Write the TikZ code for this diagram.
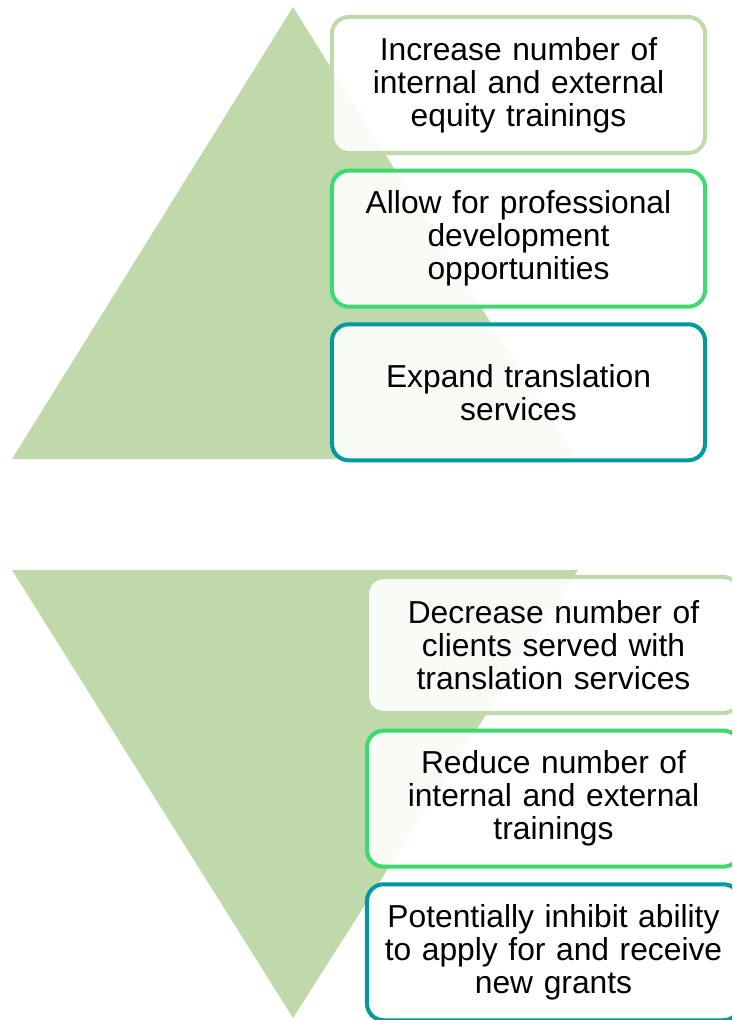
\documentclass[tikz,border=0pt]{standalone}
\usepackage{fontspec}
\setmainfont{Liberation Sans}
\usepackage{xcolor}
\usepackage{tikz}
\usetikzlibrary{shapes,positioning}

\definecolor{leafgreen}{HTML}{C0D9AB}
\definecolor{brightgreen}{HTML}{3DDA72}
\definecolor{tealblue}{HTML}{0099A0}

\begin{document}
\begin{tikzpicture}[x=0.025cm, y=-0.025cm, node distance=3.84cm,
    box/.style={draw, line width=2.85pt, fill=white, fill opacity=0.9, text opacity=1, rounded corners=0.42cm, text width=9.325cm, minimum height=3.4cm, inner sep=0pt, text centered, font=\fontsize{22.6}{23.5}\selectfont}]
    \path[use as bounding box, clip] (0,0) rectangle (732,1020);

    % the two triangles
    \fill[leafgreen] (12,459) -- (293,7) -- (576,459) -- cycle;
    \fill[leafgreen] (12,570) -- (578,570) -- (293,1018) -- cycle;

    \node[box, draw=leafgreen] (train) at (518.5,85) {Increase number of\\internal and external\\equity trainings};
    \node[box, draw=brightgreen, below of=train] (develop) {Allow for professional\\development\\opportunities};
    \node[box, draw=tealblue, below of=develop] (translate) {Expand translation\\services};

    \node[box, draw=leafgreen] (clients) at (553.5,645) {Decrease number of\\clients served with\\translation services};
    \node[box, draw=brightgreen, below of=clients] (reduce) {Reduce number of\\internal and external\\trainings};
    \node[box, draw=tealblue, below of=reduce] (grants) {Potentially inhibit ability\\to apply for and receive\\new grants};
\end{tikzpicture}
\end{document}
